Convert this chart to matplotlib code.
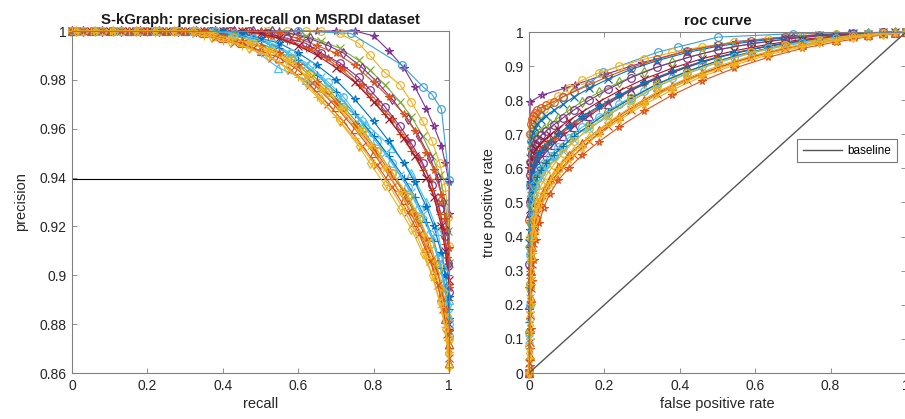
import matplotlib
matplotlib.use("Agg")
import matplotlib.pyplot as plt
from matplotlib.ticker import FormatStrFormatter, MultipleLocator

plt.rcParams["font.family"] = ["Liberation Sans", "DejaVu Sans"]

# =================================
# DATA: PRECISION-RECALL
# =================================

rec_a = [0.00, 0.05, 0.10, 0.15, 0.20, 0.25, 0.30, 0.35, 0.40, 0.45, 0.50, 0.55, 0.60,
         0.65, 0.70, 0.75, 0.80, 0.84, 0.88, 0.91, 0.94, 0.96, 0.98, 0.99, 1.00, 1.00]
rec_b = [0.00, 0.03, 0.08, 0.13, 0.18, 0.23, 0.28, 0.33, 0.38, 0.43, 0.48, 0.53, 0.58,
         0.63, 0.68, 0.72, 0.77, 0.81, 0.85, 0.89, 0.92, 0.95, 0.97, 0.985, 0.995, 1.00]
rec_c = [0.01, 0.06, 0.11, 0.17, 0.22, 0.27, 0.32, 0.37, 0.42, 0.47, 0.52, 0.57, 0.62,
         0.66, 0.71, 0.76, 0.79, 0.83, 0.87, 0.90, 0.93, 0.955, 0.975, 0.99, 0.998, 1.00]

pr_o1 = [1, 1, 1, 1, 1, 1, 1, 0.998, 0.996, 0.994, 0.991, 0.987, 0.981,
         0.973, 0.965, 0.956, 0.946, 0.937, 0.927, 0.918, 0.907, 0.898, 0.887, 0.879, 0.870, 0.862]
pr_o2 = [1, 1, 1, 1, 1, 1, 1, 0.999, 0.997, 0.995, 0.993, 0.989, 0.984,
         0.978, 0.970, 0.963, 0.953, 0.945, 0.936, 0.926, 0.917, 0.906, 0.896, 0.886, 0.876, 0.866]
pr_o3 = [1, 1, 1, 1, 1, 1, 1, 0.999, 0.997, 0.995, 0.992, 0.988, 0.982,
         0.976, 0.968, 0.959, 0.953, 0.944, 0.934, 0.926, 0.916, 0.906, 0.895, 0.884, 0.873, 0.868]
pr_o4 = [1, 1, 1, 1, 1, 1, 1, 1.000, 0.998, 0.996, 0.994, 0.991, 0.986,
         0.979, 0.971, 0.962, 0.952, 0.943, 0.934, 0.925, 0.915, 0.906, 0.895, 0.886, 0.877, 0.870]
pr_o5 = [1, 1, 1, 1, 1, 1, 1, 1.000, 0.998, 0.997, 0.995, 0.992, 0.988,
         0.982, 0.975, 0.968, 0.959, 0.951, 0.942, 0.933, 0.924, 0.913, 0.903, 0.893, 0.883, 0.874]
pr_o6 = [1, 1, 1, 1, 1, 1, 1, 0.998, 0.996, 0.993, 0.990, 0.985, 0.979,
         0.972, 0.963, 0.953, 0.946, 0.937, 0.927, 0.919, 0.909, 0.900, 0.889, 0.878, 0.868, 0.863]
pr_o7 = [1, 1, 1, 1, 1, 1, 1, 0.999, 0.997, 0.995, 0.992, 0.989, 0.984,
         0.977, 0.969, 0.960, 0.950, 0.941, 0.931, 0.922, 0.911, 0.902, 0.891, 0.882, 0.872, 0.864]

pr_c1 = [1, 1, 1, 1, 1, 1, 1, 1, 0.999, 0.998, 0.996, 0.993, 0.988,
         0.982, 0.975, 0.966, 0.957, 0.949, 0.940, 0.932, 0.922, 0.914, 0.903, 0.895, 0.886, 0.878]
pr_c2 = [1, 1, 1, 1, 1, 1, 1, 1, 1.000, 0.999, 0.997, 0.995, 0.991,
         0.986, 0.979, 0.973, 0.963, 0.955, 0.946, 0.936, 0.927, 0.917, 0.907, 0.897, 0.888, 0.880]
pr_c3 = [1, 1, 1, 1, 1, 1, 1, 1, 0.999, 0.997, 0.995, 0.991, 0.986,
         0.981, 0.973, 0.964, 0.958, 0.950, 0.941, 0.934, 0.925, 0.916, 0.906, 0.895, 0.884, 0.876]
pr_c5 = [1, 1, 1, 1, 1, 1, 1, 1, 1.000, 0.999, 0.997, 0.995, 0.991,
         0.986, 0.980, 0.972, 0.963, 0.955, 0.946, 0.938, 0.928, 0.920, 0.909, 0.900, 0.891, 0.882]
pr_c6 = [1, 1, 1, 1, 1, 1, 1, 1, 1.000, 0.998, 0.996, 0.993, 0.989,
         0.983, 0.976, 0.969, 0.960, 0.951, 0.942, 0.932, 0.923, 0.913, 0.902, 0.892, 0.883, 0.875]

pr_r1 = [1, 1, 1, 1, 1, 1, 1, 1, 1, 1, 0.999, 0.998, 0.996,
         0.993, 0.989, 0.985, 0.978, 0.971, 0.964, 0.955, 0.948, 0.939, 0.930, 0.919, 0.907, 0.895]
pr_r2 = [1, 1, 1, 1, 1, 1, 1, 1, 1, 1.000, 0.998, 0.996, 0.993,
         0.990, 0.985, 0.978, 0.973, 0.966, 0.958, 0.951, 0.943, 0.935, 0.925, 0.913, 0.900, 0.890]
pr_r3 = [1, 1, 1, 1, 1, 1, 1, 1, 1, 1, 0.999, 0.997, 0.994,
         0.990, 0.985, 0.979, 0.971, 0.964, 0.956, 0.949, 0.940, 0.932, 0.920, 0.910, 0.898, 0.880]
pr_r4 = [1, 1, 1, 1, 1, 1, 1, 1, 1, 1, 1, 1, 0.999,
         0.997, 0.994, 0.991, 0.985, 0.979, 0.972, 0.964, 0.957, 0.948, 0.940, 0.930, 0.918, 0.905]
pr_r5 = [1, 1, 1, 1, 1, 1, 1, 1, 1, 1, 0.999, 0.997, 0.995,
         0.991, 0.987, 0.981, 0.976, 0.969, 0.961, 0.954, 0.946, 0.937, 0.927, 0.916, 0.904, 0.893]
pr_r6 = [1, 1, 1, 1, 1, 1, 1, 1, 1, 1, 1, 0.999, 0.997,
         0.994, 0.991, 0.986, 0.979, 0.973, 0.966, 0.959, 0.950, 0.943, 0.933, 0.923, 0.911, 0.896]
pr_g1 = [1, 1, 1, 1, 1, 1, 1, 1, 1, 1, 1, 0.999, 0.998,
         0.996, 0.993, 0.988, 0.984, 0.978, 0.971, 0.965, 0.957, 0.949, 0.941, 0.930, 0.918, 0.905]

pr_p1 = [1, 1, 1, 1, 1, 1, 1, 1, 1, 1, 1, 1, 1,
         1, 1, 1, 0.998, 0.992, 0.985, 0.977, 0.968, 0.961, 0.953, 0.946, 0.938, 0.925]
pr_p2 = [1, 1, 1, 1, 1, 1, 1, 1, 1, 1, 1, 1, 1,
         1, 0.999, 0.995, 0.990, 0.983, 0.978, 0.971, 0.963, 0.955, 0.946, 0.936, 0.924, 0.912]

rec_t = [0.00, 0.15, 0.30, 0.40, 0.45, 0.547, 0.62, 0.70, 0.78, 0.85, 0.90, 0.94, 0.97, 0.99, 1.00]
pr_t = [1.0, 1.0, 1.0, 0.999, 0.996, 0.985, 0.980, 0.972, 0.962, 0.952, 0.942, 0.930, 0.918, 0.902, 0.890]

rec_bc = [0.00, 0.20, 0.40, 0.60, 0.74, 0.875, 0.932, 0.955, 0.98, 1.00]
pr_bc = [1.0, 1.0, 1.0, 1.0, 0.999, 0.986, 0.977, 0.974, 0.968, 0.939]

pr_baseline = 0.9395

# =================================
# DATA: ROC
# =================================

fpr_a = [0, 0.001, 0.002, 0.003, 0.005, 0.007, 0.010, 0.015, 0.022, 0.032, 0.046, 0.065, 0.09,
         0.12, 0.16, 0.21, 0.27, 0.34, 0.42, 0.50, 0.59, 0.68, 0.77, 0.86, 0.94, 1.0]
fpr_b = [0, 0.0015, 0.0025, 0.004, 0.006, 0.0085, 0.012, 0.018, 0.027, 0.039, 0.055, 0.077, 0.105,
         0.14, 0.185, 0.24, 0.305, 0.38, 0.46, 0.545, 0.635, 0.725, 0.815, 0.90, 0.97, 1.0]

roc_o1 = [0, 0.06, 0.14, 0.22, 0.30, 0.36, 0.41, 0.45, 0.48, 0.51, 0.545, 0.58, 0.615,
          0.65, 0.69, 0.735, 0.78, 0.825, 0.865, 0.90, 0.93, 0.955, 0.972, 0.986, 0.995, 1.0]
roc_o2 = [0, 0.10, 0.18, 0.26, 0.33, 0.39, 0.43, 0.47, 0.50, 0.53, 0.565, 0.60, 0.635,
          0.67, 0.71, 0.75, 0.795, 0.838, 0.876, 0.908, 0.937, 0.96, 0.977, 0.99, 0.997, 1.0]
roc_o3 = [0, 0.03, 0.09, 0.17, 0.25, 0.32, 0.38, 0.43, 0.465, 0.50, 0.535, 0.57, 0.605,
          0.64, 0.68, 0.725, 0.77, 0.817, 0.858, 0.895, 0.927, 0.952, 0.970, 0.985, 0.994, 1.0]
roc_o4 = [0, 0.04, 0.12, 0.20, 0.28, 0.35, 0.41, 0.455, 0.49, 0.52, 0.555, 0.59, 0.625,
          0.66, 0.70, 0.742, 0.787, 0.83, 0.87, 0.903, 0.933, 0.957, 0.975, 0.988, 0.996, 1.0]
roc_o5 = [0, 0.08, 0.16, 0.25, 0.33, 0.40, 0.45, 0.49, 0.52, 0.55, 0.58, 0.61, 0.645,
          0.68, 0.718, 0.758, 0.80, 0.842, 0.88, 0.912, 0.94, 0.962, 0.978, 0.99, 0.997, 1.0]
roc_o6 = [0, 0.02, 0.07, 0.13, 0.20, 0.27, 0.33, 0.39, 0.44, 0.485, 0.525, 0.565, 0.60,
          0.638, 0.678, 0.722, 0.768, 0.815, 0.857, 0.894, 0.926, 0.952, 0.971, 0.986, 0.995, 1.0]
roc_o7 = [0, 0.05, 0.13, 0.22, 0.30, 0.37, 0.42, 0.46, 0.50, 0.535, 0.57, 0.605, 0.64,
          0.675, 0.713, 0.755, 0.80, 0.843, 0.88, 0.912, 0.94, 0.962, 0.978, 0.99, 0.997, 1.0]

roc_c1 = [0, 0.15, 0.30, 0.40, 0.46, 0.50, 0.53, 0.555, 0.575, 0.595, 0.615, 0.64, 0.665,
          0.695, 0.727, 0.765, 0.805, 0.848, 0.885, 0.915, 0.942, 0.962, 0.978, 0.99, 0.997, 1.0]
roc_c2 = [0, 0.20, 0.35, 0.44, 0.49, 0.525, 0.55, 0.575, 0.595, 0.615, 0.637, 0.662, 0.69,
          0.72, 0.752, 0.79, 0.828, 0.866, 0.90, 0.928, 0.952, 0.969, 0.983, 0.993, 0.998, 1.0]
roc_c3 = [0, 0.10, 0.22, 0.33, 0.41, 0.46, 0.50, 0.53, 0.555, 0.575, 0.598, 0.625, 0.652,
          0.682, 0.715, 0.755, 0.797, 0.84, 0.878, 0.91, 0.938, 0.96, 0.976, 0.989, 0.996, 1.0]
roc_c4 = [0, 0.25, 0.42, 0.51, 0.56, 0.59, 0.61, 0.63, 0.645, 0.66, 0.678, 0.70, 0.725,
          0.752, 0.782, 0.815, 0.85, 0.884, 0.914, 0.938, 0.959, 0.974, 0.986, 0.994, 0.998, 1.0]
roc_c5 = [0, 0.12, 0.26, 0.37, 0.44, 0.49, 0.52, 0.548, 0.57, 0.59, 0.612, 0.637, 0.664,
          0.694, 0.726, 0.765, 0.805, 0.847, 0.884, 0.915, 0.942, 0.962, 0.978, 0.99, 0.997, 1.0]

roc_r1 = [0, 0.25, 0.42, 0.50, 0.55, 0.58, 0.60, 0.62, 0.635, 0.65, 0.665, 0.685, 0.705,
          0.73, 0.76, 0.795, 0.833, 0.868, 0.90, 0.927, 0.95, 0.968, 0.982, 0.992, 0.997, 1.0]
roc_r2 = [0, 0.30, 0.48, 0.56, 0.60, 0.625, 0.642, 0.657, 0.67, 0.683, 0.698, 0.717, 0.74,
          0.765, 0.795, 0.828, 0.862, 0.894, 0.922, 0.945, 0.964, 0.978, 0.989, 0.995, 0.999, 1.0]
roc_r3 = [0, 0.20, 0.38, 0.47, 0.52, 0.555, 0.58, 0.60, 0.615, 0.63, 0.648, 0.67, 0.695,
          0.722, 0.755, 0.79, 0.828, 0.864, 0.897, 0.925, 0.949, 0.967, 0.981, 0.991, 0.997, 1.0]
roc_r4 = [0, 0.28, 0.45, 0.53, 0.575, 0.60, 0.62, 0.638, 0.652, 0.666, 0.682, 0.70, 0.722,
          0.748, 0.778, 0.812, 0.848, 0.882, 0.913, 0.938, 0.959, 0.974, 0.986, 0.994, 0.998, 1.0]
roc_r5 = [0, 0.32, 0.50, 0.58, 0.62, 0.645, 0.66, 0.673, 0.685, 0.697, 0.71, 0.727, 0.748,
          0.772, 0.80, 0.832, 0.866, 0.897, 0.925, 0.948, 0.966, 0.979, 0.989, 0.995, 0.999, 1.0]
roc_g1 = [0, 0.35, 0.52, 0.60, 0.64, 0.665, 0.68, 0.693, 0.705, 0.717, 0.73, 0.748, 0.77,
          0.795, 0.823, 0.853, 0.884, 0.912, 0.937, 0.957, 0.972, 0.984, 0.992, 0.997, 0.999, 1.0]

roc_u1 = [0, 0.45, 0.62, 0.70, 0.73, 0.745, 0.755, 0.763, 0.77, 0.777, 0.785, 0.795, 0.81,
          0.825, 0.845, 0.87, 0.895, 0.92, 0.945, 0.962, 0.975, 0.985, 0.992, 0.996, 0.999, 1.0]
roc_u2 = [0, 0.40, 0.58, 0.66, 0.70, 0.72, 0.735, 0.748, 0.76, 0.775, 0.792, 0.812, 0.835,
          0.858, 0.88, 0.90, 0.92, 0.94, 0.957, 0.97, 0.98, 0.988, 0.994, 0.997, 0.999, 1.0]
roc_u3 = [0, 0.38, 0.55, 0.63, 0.67, 0.69, 0.705, 0.718, 0.73, 0.742, 0.755, 0.77, 0.788,
          0.81, 0.835, 0.862, 0.89, 0.916, 0.94, 0.958, 0.972, 0.983, 0.991, 0.996, 0.999, 1.0]

fpr_ps = [0, 0.001, 0.003, 0.034, 0.095, 0.122, 0.20, 0.30, 0.42, 0.55, 0.70, 0.85, 1.0]
tpr_ps = [0, 0.60, 0.795, 0.815, 0.835, 0.845, 0.875, 0.91, 0.945, 0.972, 0.988, 0.996, 1.0]

fpr_bc = [0, 0.002, 0.005, 0.03, 0.09, 0.162, 0.196, 0.342, 0.395, 0.501, 0.70, 1.0]
tpr_bc = [0, 0.55, 0.68, 0.76, 0.81, 0.85, 0.883, 0.941, 0.956, 0.985, 0.995, 1.0]

baseline_x = [0, 1]
baseline_y = [0, 1]

# =================================
# STYLE
# =================================

BLUE = "#0072BD"
ORANGE = "#D95319"
YELLOW = "#EDB120"
PURPLE = "#7E2F8E"
GREEN = "#77AC30"
CYAN = "#4DBEEE"
RED = "#A2142F"

pr_curves = [
    (rec_a, pr_p1, PURPLE, "*"),
    (rec_c, pr_p2, YELLOW, "o"),
    (rec_bc, pr_bc, "#3C9FD6", "o"),
    (rec_c, pr_g1, GREEN, "x"),
    (rec_b, pr_r4, PURPLE, "d"),
    (rec_a, pr_r6, ORANGE, "*"),
    (rec_b, pr_r1, ORANGE, "*"),
    (rec_c, pr_r5, PURPLE, "o"),
    (rec_c, pr_r2, ORANGE, "+"),
    (rec_a, pr_r3, RED, "x"),
    (rec_t, pr_t, CYAN, "^"),
    (rec_a, pr_c5, BLUE, "*"),
    (rec_b, pr_c6, GREEN, "o"),
    (rec_b, pr_c2, CYAN, "o"),
    (rec_a, pr_c1, BLUE, "+"),
    (rec_c, pr_c3, CYAN, "x"),
    (rec_a, pr_o4, ORANGE, "*"),
    (rec_b, pr_o5, YELLOW, "o"),
    (rec_a, pr_o7, ORANGE, "^"),
    (rec_c, pr_o3, YELLOW, "*"),
    (rec_b, pr_o2, ORANGE, "x"),
    (rec_a, pr_o1, YELLOW, "+"),
    (rec_c, pr_o6, YELLOW, "d"),
]

roc_curves = [
    (fpr_ps, tpr_ps, PURPLE, "*"),
    (fpr_bc, tpr_bc, "#3C9FD6", "o"),
    (fpr_b, roc_u2, YELLOW, "o"),
    (fpr_a, roc_u1, ORANGE, "o"),
    (fpr_a, roc_u3, BLUE, "x"),
    (fpr_b, roc_g1, GREEN, "d"),
    (fpr_a, roc_r5, PURPLE, "o"),
    (fpr_b, roc_r2, RED, "x"),
    (fpr_b, roc_r4, ORANGE, "+"),
    (fpr_a, roc_r1, ORANGE, "*"),
    (fpr_a, roc_r3, PURPLE, "^"),
    (fpr_b, roc_c4, BLUE, "*"),
    (fpr_b, roc_c2, CYAN, "o"),
    (fpr_a, roc_c5, GREEN, "o"),
    (fpr_a, roc_c1, BLUE, "+"),
    (fpr_a, roc_c3, CYAN, "x"),
    (fpr_b, roc_o6, ORANGE, "*"),
    (fpr_a, roc_o5, YELLOW, "o"),
    (fpr_b, roc_o7, ORANGE, "^"),
    (fpr_b, roc_o4, YELLOW, "*"),
    (fpr_a, roc_o3, ORANGE, "x"),
    (fpr_b, roc_o2, YELLOW, "+"),
    (fpr_a, roc_o1, YELLOW, "d"),
]


def style_axes(ax):
    for spine in ax.spines.values():
        spine.set_color("#808080")
        spine.set_linewidth(0.8)
    ax.tick_params(
        direction="in",
        top=True,
        right=True,
        length=3.5,
        width=0.6,
        color="#808080",
        labelcolor="#262626",
        labelsize=10,
        pad=4
    )


def draw_curves(ax, curves):
    for x, y, color, marker in curves:
        ax.plot(
            x,
            y,
            color=color,
            marker=marker,
            markersize=5.5,
            markerfacecolor="none",
            markeredgewidth=0.85,
            linewidth=0.8,
            clip_on=False
        )


# =================================
# FIGURE
# =================================

fig = plt.figure(figsize=(9.05, 4.19), dpi=100)

ax1 = fig.add_axes([72 / 905, 1 - 373 / 419, 377 / 905, 342 / 419])
ax2 = fig.add_axes([529 / 905, 1 - 373 / 419, 377 / 905, 341 / 419])

# ---- precision-recall ----
ax1.plot([0, 1], [pr_baseline, pr_baseline], color="black", linewidth=0.8)
draw_curves(ax1, pr_curves)
ax1.set_xlim(0, 1)
ax1.set_ylim(0.86, 1.0)
ax1.xaxis.set_major_locator(MultipleLocator(0.2))
ax1.yaxis.set_major_locator(MultipleLocator(0.02))
ax1.xaxis.set_major_formatter(FormatStrFormatter("%g"))
ax1.yaxis.set_major_formatter(FormatStrFormatter("%g"))
style_axes(ax1)
ax1.set_title(
    "S-kGraph: precision-recall on MSRDI dataset",
    fontsize=10.8,
    fontweight="bold",
    color="#1a1a1a",
    pad=5
)
ax1.set_xlabel("recall", fontsize=10.5, color="#262626", labelpad=3)
ax1.set_ylabel("precision", fontsize=10.5, color="#262626", labelpad=8)

# ---- roc ----
draw_curves(ax2, roc_curves)
line_base, = ax2.plot(baseline_x, baseline_y, color="#555555", linewidth=1.0)
ax2.set_xlim(0, 1)
ax2.set_ylim(0, 1)
ax2.xaxis.set_major_locator(MultipleLocator(0.2))
ax2.yaxis.set_major_locator(MultipleLocator(0.1))
ax2.xaxis.set_major_formatter(FormatStrFormatter("%g"))
ax2.yaxis.set_major_formatter(FormatStrFormatter("%g"))
style_axes(ax2)
ax2.set_title(
    "roc curve",
    fontsize=10.8,
    fontweight="bold",
    color="#1a1a1a",
    pad=5
)
ax2.set_xlabel("false positive rate", fontsize=10.5, color="#262626", labelpad=3)
ax2.set_ylabel("true positive rate", fontsize=10.5, color="#262626", labelpad=6)

leg = ax2.legend(
    [line_base],
    ["baseline"],
    loc="upper right",
    bbox_to_anchor=(0.975, 0.685),
    fontsize=8.5,
    frameon=True,
    fancybox=False,
    edgecolor="#555555",
    handlelength=3.3,
    handletextpad=0.5,
    borderpad=0.45,
    borderaxespad=0
)
leg.get_frame().set_linewidth(0.8)

# =================================
# SAVE
# =================================

fig.savefig("out.png", dpi=100)
